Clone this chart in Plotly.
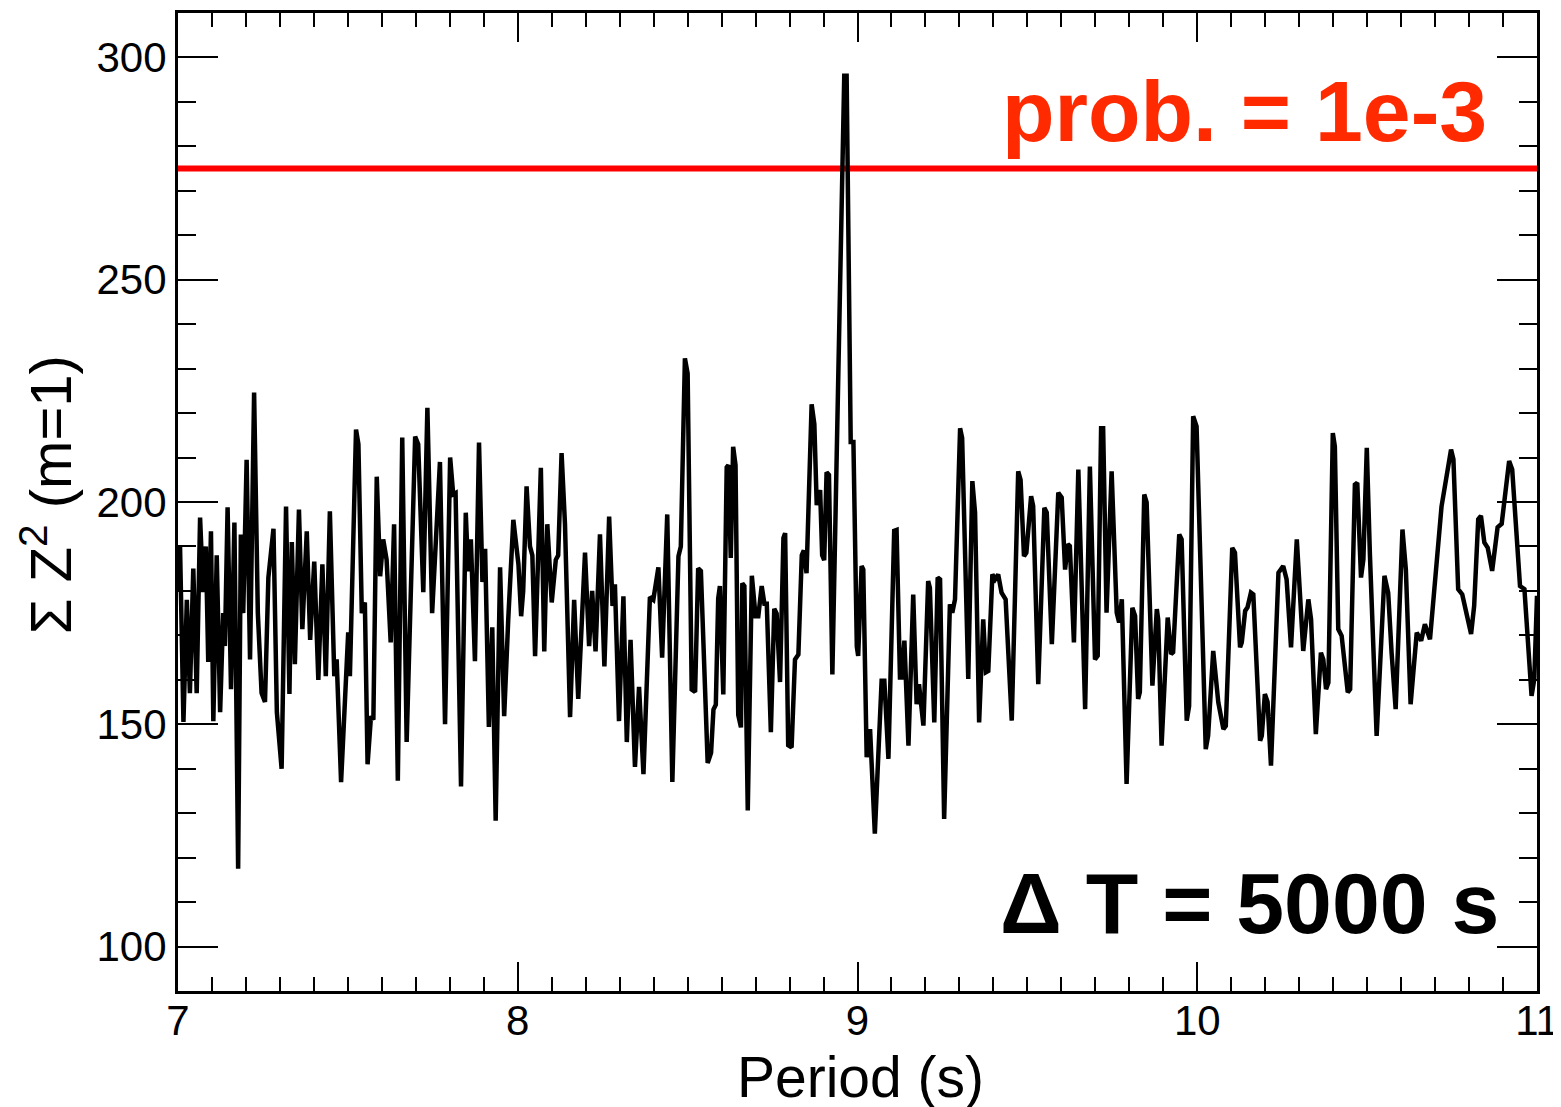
import plotly.graph_objects as go

# ---- data ----
period_s = [
    7.000, 7.006, 7.016, 7.026, 7.035, 7.045, 7.055, 7.065, 7.074, 7.082,
    7.089, 7.097, 7.104, 7.114, 7.124, 7.133, 7.138, 7.146, 7.156, 7.166,
    7.177, 7.185, 7.192, 7.202, 7.212, 7.224, 7.235, 7.246, 7.256, 7.266,
    7.281, 7.291, 7.305, 7.318, 7.328, 7.335, 7.344, 7.356, 7.366, 7.379,
    7.389, 7.401, 7.413, 7.425, 7.435, 7.447, 7.460, 7.467, 7.480, 7.492,
    7.501,
    7.506, 7.524, 7.531, 7.541, 7.550, 7.558, 7.568, 7.575, 7.585, 7.595,
    7.604, 7.614, 7.626, 7.636, 7.647, 7.660, 7.673, 7.698, 7.707, 7.722,
    7.734, 7.748, 7.771, 7.786, 7.801, 7.810, 7.817, 7.833, 7.847, 7.854,
    7.862, 7.874, 7.886, 7.896, 7.904, 7.915, 7.925, 7.935, 7.948, 7.960,
    7.972, 7.987, 8.002,
    8.010, 8.016, 8.026, 8.036, 8.043, 8.051, 8.068, 8.078, 8.087, 8.100,
    8.112, 8.119, 8.129, 8.139, 8.154, 8.166, 8.178, 8.198, 8.210, 8.219,
    8.229, 8.242, 8.255, 8.269, 8.279, 8.286, 8.298, 8.311, 8.321, 8.332,
    8.345, 8.357, 8.370, 8.389, 8.399, 8.414, 8.425, 8.440, 8.455, 8.473,
    8.480, 8.492,
    8.500, 8.512, 8.522, 8.531, 8.539, 8.559, 8.569, 8.576, 8.583, 8.590,
    8.595, 8.605, 8.615, 8.620, 8.627, 8.634, 8.641, 8.649, 8.657, 8.661,
    8.667, 8.677, 8.689, 8.700, 8.708, 8.718, 8.726, 8.733, 8.745, 8.755,
    8.762, 8.772, 8.782, 8.787, 8.796, 8.806, 8.816, 8.826, 8.836, 8.842,
    8.850, 8.865, 8.873, 8.880, 8.890, 8.896, 8.902, 8.909, 8.916, 8.926,
    8.943, 8.953, 8.961, 8.968, 8.975, 8.980, 8.988, 8.998,
    9.002, 9.012, 9.017, 9.027, 9.037, 9.051, 9.071, 9.079, 9.091, 9.108,
    9.115, 9.125, 9.130, 9.138, 9.150, 9.164, 9.174, 9.181, 9.194, 9.208,
    9.213, 9.226, 9.236, 9.243, 9.255, 9.272, 9.279, 9.287, 9.302, 9.308,
    9.326, 9.338, 9.346, 9.358, 9.370, 9.378, 9.385, 9.397, 9.405, 9.414,
    9.424, 9.436, 9.454, 9.473, 9.480, 9.490, 9.497,
    9.511, 9.517, 9.532, 9.550, 9.557, 9.572, 9.591, 9.601, 9.611, 9.619,
    9.625, 9.637, 9.650, 9.670, 9.684, 9.699, 9.707, 9.717, 9.723, 9.733,
    9.748, 9.763, 9.770, 9.778, 9.792, 9.809, 9.817, 9.826, 9.831, 9.844,
    9.851, 9.868, 9.881, 9.885, 9.895, 9.913, 9.923, 9.929, 9.947, 9.954,
    9.969, 9.976, 9.988, 9.998,
    10.025, 10.032, 10.047, 10.062, 10.077, 10.084, 10.103, 10.111, 10.126, 10.131,
    10.141, 10.148, 10.158, 10.165, 10.185, 10.190, 10.199, 10.207, 10.217, 10.239,
    10.253, 10.263, 10.276, 10.293, 10.302, 10.312, 10.327, 10.335, 10.349, 10.364,
    10.371, 10.379, 10.386, 10.399, 10.405, 10.415, 10.425, 10.443, 10.450, 10.464,
    10.471, 10.482, 10.489, 10.499,
    10.508, 10.528, 10.551, 10.562, 10.572, 10.584, 10.604, 10.614, 10.628, 10.646,
    10.659, 10.670, 10.685, 10.705, 10.719, 10.747, 10.754, 10.768, 10.780, 10.806,
    10.815, 10.827, 10.835, 10.845, 10.855, 10.868, 10.884, 10.896, 10.918, 10.927,
    10.950, 10.963, 10.984, 10.992, 11.000,
]

z2_sum = [
    180, 190, 150.5, 178, 157, 185, 157, 196.5, 179.7, 190,
    164, 193.4, 150.7, 188, 152.7, 175, 167.6, 198.8, 157.9, 195.4,
    117.5, 192.7, 175, 209.5, 164.6, 224.6, 175, 157, 155, 183,
    194, 152.7, 140, 199, 156.8, 191, 163.5, 198.3, 171.4, 193.4,
    169, 186.6, 160, 186, 160.8, 197.9, 160.8, 164.6, 137, 156,
    170.7,
    160.8, 216.3, 213, 175, 177.4, 141, 151.8, 151, 205.7, 183.3,
    191.6, 187, 168.4, 195, 137.3, 214.5, 146, 214.7, 213, 179.7,
    221.2, 175, 209, 150, 210, 201.7, 202, 136, 197.6, 184.4,
    191.6, 164.2, 213.4, 182, 189.5, 149.4, 171.8, 128.3, 185.3, 151.8,
    173.6, 196, 186,
    174.3, 180, 203.5, 190, 188, 165.3, 207.7, 166.4, 195, 177.4,
    187, 188, 211, 195, 151.6, 178, 155.7, 188.6, 167.6, 180,
    166.4, 192.7, 163, 196.7, 176.6, 181.5, 150.7, 178.8, 146, 169,
    140.4, 158.4, 138.8, 178.6, 178, 185.3, 165, 197.2, 137, 187.8,
    190, 232.3,
    228.9, 157.8, 157.3, 185.1, 184.5, 141.3, 143.6, 153.3, 154.4, 178.3,
    181.1, 156.7, 207.8, 208.3, 187.4, 212.4, 208.3, 152.1, 149.3, 181.7,
    181.1, 130.6, 183.4, 174.3, 174.3, 181.1, 177.1, 177.1, 148.2, 176,
    174.9, 159.5, 191.9, 193, 145.3, 144.8, 164.6, 165.7, 188, 189.1,
    184, 222, 217.5, 199.3, 202.7, 188, 186.9, 206.7, 206.1, 161.2,
    225.5, 270.9, 295.9, 295.9, 231.1, 213.5, 213.5, 167.5,
    165.4, 185.6, 184.8, 142.6, 148.9, 125.4, 159.8, 159.8, 142.2, 193.5,
    193.7, 160.5, 160.5, 168.8, 145.2, 179.2, 154.5, 159, 149.7, 182.2,
    180.7, 150.4, 183, 182.6, 128.7, 177, 175.1, 178.1, 216.6, 214.4,
    160.2, 204.7, 197.6, 150.4, 173.6, 161.7, 162, 183.7, 182.6, 183.7,
    179.6, 178.1, 150.8, 206.9, 205, 187.8, 188.6,
    201.3, 199.1, 159, 198.7, 197.6, 168, 202.1, 201, 184.8, 190.5,
    190.1, 168.4, 207.3, 153.4, 208, 164.6, 165.4, 216.6, 216.6, 175.1,
    206.9, 175.1, 172.9, 178.1, 136.6, 176.2, 174.4, 155.7, 157.2, 201.7,
    199.9, 158.7, 175.9, 173.6, 145.2, 174, 165.8, 166.2, 192.7, 191.6,
    150.8, 154.1, 219.3, 217,
    144.4, 147.4, 166.5, 154.9, 148.9, 149.6, 189.7, 188.6, 167.3, 168.4,
    175.5, 176.3, 179.6, 179.2, 146.3, 147.4, 156.8, 155, 140.7, 184.1,
    185.6, 182.6, 167.3, 191.6, 181.1, 166.5, 178.1, 173.6, 147.8, 166.1,
    164.6, 157.9, 159.4, 215.5, 212.5, 171.4, 169.9, 157.2, 157.9, 203.9,
    204.3, 183, 187.1, 212.2,
    188.6, 147.4, 183.4, 179.6, 166.1, 153.4, 193.8, 184.8, 154.5, 170.6,
    168.8, 172.5, 169.1, 187.1, 199, 211.8, 209.6, 180.4, 179.2, 170.3,
    176.6, 196.1, 196.9, 190.9, 189.7, 184.5, 194.3, 195.1, 209.2, 207.3,
    181.1, 180.4, 156.4, 160.1, 178.9,
]

threshold_level = 275.0          # prob. = 1e-3
threshold_x = [7.0, 11.0]
threshold_y = [threshold_level, threshold_level]

x_range = [7, 11]
y_range = [90, 310]
x_ticks = [7, 8, 9, 10, 11]
y_ticks = [100, 150, 200, 250, 300]

FONT = "Liberation Sans, Arial, Helvetica, sans-serif"

fig = go.Figure()
fig.add_trace(go.Scatter(
    x=threshold_x, y=threshold_y, mode="lines",
    line=dict(color="#ff0000", width=6), hoverinfo="skip", showlegend=False,
))
fig.add_trace(go.Scatter(
    x=period_s, y=z2_sum, mode="lines",
    line=dict(color="black", width=4.5), showlegend=False,
))

axis_common = dict(
    showgrid=False, zeroline=False, showline=True, linecolor="black",
    linewidth=3, mirror="ticks", ticks="inside", tickcolor="black",
    tickwidth=2, automargin=False,
    tickfont=dict(family=FONT, size=42, color="black"),
)

fig.update_xaxes(
    range=x_range, tickvals=x_ticks, ticktext=[str(v) for v in x_ticks],
    ticklen=29, ticklabelstandoff=-9,
    minor=dict(dtick=0.1, ticks="inside", ticklen=14, tickwidth=2,
               tickcolor="black", showgrid=False),
    **axis_common,
)
fig.update_yaxes(
    range=y_range, tickvals=y_ticks, ticktext=[str(v) for v in y_ticks],
    ticklen=40,
    minor=dict(dtick=10, ticks="inside", ticklen=18, tickwidth=2,
               tickcolor="black", showgrid=False),
    **axis_common,
)

fig.add_annotation(
    text="prob. = 1e-3", xref="paper", yref="paper", x=0.9647, y=0.8998,
    xanchor="right", yanchor="middle", showarrow=False,
    font=dict(family=FONT, size=86, color="#ff2a00", weight="bold"),
)
fig.add_annotation(
    text="Δ T = 5000 s", xref="paper", yref="paper", x=0.9735, y=0.0900,
    xanchor="right", yanchor="middle", showarrow=False,
    font=dict(family=FONT, size=86, color="black", weight="bold"),
)
fig.add_annotation(
    text="Period (s)", xref="paper", yref="paper", x=0.502, y=-0.088,
    xanchor="center", yanchor="middle", showarrow=False,
    font=dict(family=FONT, size=57, color="black"),
)
fig.add_annotation(
    text="Σ Z<sup>2</sup> (m=1)", xref="paper", yref="paper", x=-0.097, y=0.507,
    xanchor="center", yanchor="middle", showarrow=False, textangle=-90,
    font=dict(family=FONT, size=58, color="black"),
)

# the page body adds an 8 px margin, so the figure is sized to fit inside it
fig.update_layout(
    template="none",
    width=1553, height=1099,
    margin=dict(l=170, r=24, t=5, b=116, autoexpand=False),
    paper_bgcolor="white", plot_bgcolor="white",
    font=dict(family=FONT, color="black"),
    showlegend=False,
)

fig.write_html("out.html")
